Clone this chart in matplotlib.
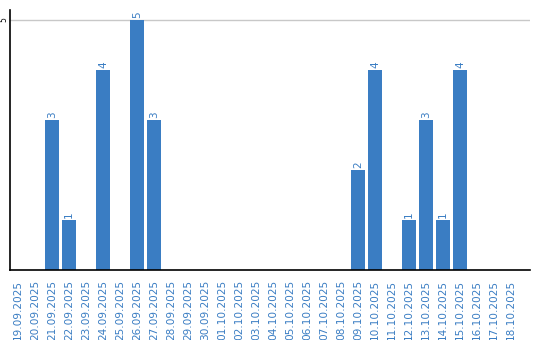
import matplotlib
matplotlib.use('Agg')
import matplotlib.pyplot as plt

dates = ['19.09.2025', '20.09.2025', '21.09.2025', '22.09.2025', '23.09.2025',
         '24.09.2025', '25.09.2025', '26.09.2025', '27.09.2025', '28.09.2025',
         '29.09.2025', '30.09.2025', '01.10.2025', '02.10.2025', '03.10.2025',
         '04.10.2025', '05.10.2025', '06.10.2025', '07.10.2025', '08.10.2025',
         '09.10.2025', '10.10.2025', '11.10.2025', '12.10.2025', '13.10.2025',
         '14.10.2025', '15.10.2025', '16.10.2025', '17.10.2025', '18.10.2025']
counts = [0, 0, 3, 1, 0, 4, 0, 5, 3, 0,
          0, 0, 0, 0, 0, 0, 0, 0, 0, 0,
          2, 4, 0, 1, 3, 1, 4, 0, 0, 0]

blue = '#3a7dc3'

fig = plt.figure(figsize=(5.4, 3.4), dpi=100)
ax = fig.add_axes([10 / 540, 1 - 270 / 340, 520 / 540, 260 / 340])

x = list(range(len(dates)))
ax.bar(x, counts, width=0.82, color=blue, zorder=2)
for i, v in enumerate(counts):
    if v > 0:
        ax.text(i, v + 0.04, str(v), rotation=90, ha='center', va='bottom',
                fontsize=7.5, color=blue)

ax.set_xlim(-0.47, 30.12)
ax.set_ylim(0, 5.2)
ax.set_yticks([5])
ax.set_yticklabels(['5'], rotation=90, va='center', fontsize=5.5)
ax.axhline(5, color='#c8c8c8', linewidth=1, zorder=1)
ax.set_xticks(x)
ax.set_xticklabels(dates, rotation=90, fontsize=7.6, color=blue)
ax.tick_params(axis='x', length=0, pad=7)
ax.tick_params(axis='y', length=0, pad=1)
ax.spines['top'].set_visible(False)
ax.spines['right'].set_visible(False)
ax.spines['left'].set_linewidth(1.2)
ax.spines['bottom'].set_linewidth(1.2)

fig.savefig('out.png', dpi=100)
